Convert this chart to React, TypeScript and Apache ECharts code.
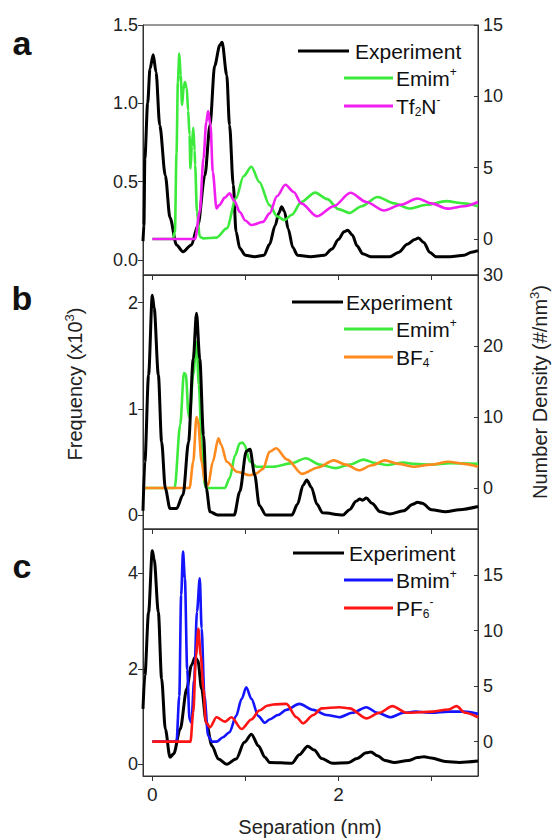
import React, { useEffect, useRef } from 'react';
import * as echarts from 'echarts';

// ---------- data (separation in nm, value) ----------
const expA: [number, number][] = [
  [-0.1, 0.12], [-0.09, 0.22], [-0.08, 0.65], [-0.05, 1.0], [-0.025, 1.22], [0.01, 1.31], [0.04, 1.2],
  [0.08, 0.86], [0.14, 0.54], [0.19, 0.27], [0.26, 0.096], [0.33, 0.053], [0.42, 0.096], [0.49, 0.22],
  [0.565, 0.54], [0.62, 0.86], [0.67, 1.24], [0.725, 1.37], [0.75, 1.39], [0.8, 1.18], [0.83, 0.86],
  [0.87, 0.48], [0.9, 0.18], [0.94, 0.075], [1.0, 0.03], [1.1, 0.02], [1.2, 0.03], [1.26, 0.1],
  [1.32, 0.22], [1.36, 0.3], [1.39, 0.34], [1.42, 0.31], [1.46, 0.2], [1.51, 0.08], [1.56, 0.03],
  [1.7, 0.02], [1.85, 0.03], [1.93, 0.07], [2.0, 0.13], [2.06, 0.18], [2.1, 0.19], [2.15, 0.16],
  [2.2, 0.09], [2.26, 0.04], [2.35, 0.02], [2.55, 0.02], [2.65, 0.05], [2.74, 0.1], [2.82, 0.13],
  [2.86, 0.14], [2.92, 0.11], [2.98, 0.05], [3.05, 0.02], [3.2, 0.02], [3.35, 0.03], [3.43, 0.05], [3.5, 0.06],
];
const emimA: [number, number][] = [
  [0, 0], [0.22, 0], [0.243, 0.5], [0.26, 6], [0.275, 11], [0.29, 13.0], [0.305, 11.5], [0.32, 9.4],
  [0.335, 10.5], [0.35, 11.0], [0.37, 10.6], [0.385, 9], [0.4, 7.3], [0.41, 4.95], [0.425, 6.5],
  [0.44, 7.8], [0.455, 6.2], [0.46, 5.2], [0.48, 1.9], [0.51, 0.16], [0.55, 0.05], [0.69, 0.1],
  [0.8, 0.75], [0.9, 2.85], [0.98, 4.4], [1.065, 5.07], [1.15, 4.0], [1.26, 2.38], [1.34, 1.6],
  [1.42, 1.33], [1.5, 1.7], [1.6, 2.6], [1.75, 3.25], [1.88, 2.8], [2.0, 2.1], [2.12, 1.83],
  [2.25, 2.3], [2.42, 2.95], [2.6, 2.5], [2.76, 2.14], [2.95, 2.4], [3.16, 2.66], [3.35, 2.5], [3.5, 2.3],
];
const tf2nA: [number, number][] = [
  [0, 0], [0.46, 0], [0.51, 1.9], [0.55, 5.65], [0.58, 8.2], [0.6, 8.97], [0.625, 8.0], [0.65, 4.7],
  [0.69, 2.15], [0.72, 2.38], [0.78, 2.9], [0.83, 3.2], [0.88, 2.7], [0.94, 1.9], [1.0, 1.3],
  [1.065, 0.98], [1.19, 1.2], [1.26, 1.8], [1.34, 3.0], [1.43, 3.8], [1.52, 3.3], [1.6, 2.5],
  [1.77, 1.6], [1.95, 2.3], [2.13, 3.24], [2.3, 2.6], [2.49, 2.0], [2.67, 2.4], [2.85, 2.84],
  [3.0, 2.5], [3.17, 2.13], [3.35, 2.3], [3.5, 2.6],
];

const expB: [number, number][] = [
  [-0.1, 0.04], [-0.08, 0.5], [-0.04, 1.32], [0.0, 2.07], [0.02, 1.95], [0.065, 1.32], [0.1, 0.69],
  [0.14, 0.25], [0.19, 0.06], [0.26, 0.06], [0.33, 0.19], [0.39, 0.69], [0.44, 1.47], [0.475, 1.9],
  [0.51, 1.47], [0.55, 0.75], [0.58, 0.25], [0.62, 0.03], [0.7, 0.0], [0.88, 0.0], [0.94, 0.22],
  [1.01, 0.6], [1.05, 0.62], [1.1, 0.38], [1.15, 0.09], [1.22, 0.0], [1.5, 0.0], [1.56, 0.1],
  [1.62, 0.28], [1.66, 0.33], [1.71, 0.26], [1.77, 0.1], [1.83, 0.02], [2.05, 0.0], [2.12, 0.05],
  [2.19, 0.13], [2.23, 0.15], [2.26, 0.14], [2.3, 0.16], [2.36, 0.11], [2.45, 0.03], [2.55, 0.01],
  [2.7, 0.04], [2.8, 0.1], [2.85, 0.12], [2.9, 0.11], [3.0, 0.05], [3.15, 0.03], [3.3, 0.05], [3.5, 0.08],
];
const emimB: [number, number][] = [
  [-0.1, 0], [0.24, 0], [0.3, 8.9], [0.34, 16.2], [0.36, 16.0], [0.39, 10.3], [0.4, 9.9], [0.44, 16.0],
  [0.475, 20.6], [0.5, 14.5], [0.53, 6.5], [0.565, 0.4], [0.58, 0], [0.78, 0], [0.83, 1.36],
  [0.89, 4.6], [0.94, 6.3], [0.97, 6.4], [0.99, 6.1], [1.05, 3.7], [1.12, 3.0], [1.3, 3.0], [1.5, 3.5],
  [1.65, 4.2], [1.8, 3.3], [1.97, 2.8], [2.12, 3.3], [2.27, 4.0], [2.4, 3.5], [2.52, 3.24], [2.7, 3.6],
  [2.81, 3.4], [3.0, 3.3], [3.2, 3.5], [3.5, 3.4],
];
const bf4B: [number, number][] = [
  [-0.1, 0], [0.4, 0], [0.44, 3.7], [0.475, 10.0], [0.49, 9.5], [0.53, 3.7], [0.565, 0.9], [0.6, 0.4],
  [0.65, 3.7], [0.71, 7.0], [0.74, 6.1], [0.8, 3.7], [0.91, 2.3], [1.05, 1.8], [1.11, 2.0], [1.19, 2.7],
  [1.26, 5.1], [1.33, 5.6], [1.45, 4.0], [1.61, 2.0], [1.78, 2.9], [1.95, 3.9], [2.08, 3.3], [2.22, 2.5],
  [2.36, 3.2], [2.5, 3.9], [2.65, 3.4], [2.8, 3.0], [3.0, 3.3], [3.18, 3.7], [3.35, 3.4], [3.5, 3.0],
];

const expC: [number, number][] = [
  [-0.1, 1.16], [-0.08, 1.86], [-0.04, 3.18], [0.0, 4.47], [0.02, 4.3], [0.065, 3.18], [0.1, 1.79],
  [0.14, 0.74], [0.19, 0.15], [0.23, 0.22], [0.3, 0.74], [0.37, 1.58], [0.42, 2.07], [0.46, 2.24],
  [0.49, 2.17], [0.53, 1.58], [0.58, 0.88], [0.64, 0.39], [0.71, 0.11], [0.8, 0.0], [0.9, 0.11],
  [0.99, 0.46], [1.065, 0.63], [1.14, 0.39], [1.21, 0.15], [1.26, 0.04], [1.5, 0.02], [1.58, 0.2],
  [1.67, 0.38], [1.74, 0.3], [1.82, 0.12], [1.94, 0.02], [2.1, 0.03], [2.2, 0.12], [2.3, 0.24],
  [2.35, 0.26], [2.42, 0.18], [2.5, 0.08], [2.6, 0.04], [2.75, 0.08], [2.85, 0.14], [2.92, 0.16],
  [3.0, 0.13], [3.15, 0.06], [3.3, 0.04], [3.5, 0.07],
];
const bmimC: [number, number][] = [
  [0, 0], [0.26, 0], [0.29, 4.1], [0.31, 13.2], [0.33, 17.1], [0.35, 14.7], [0.375, 6.5], [0.4, 2.0],
  [0.42, 1.7], [0.45, 5.6], [0.48, 11.7], [0.51, 14.7], [0.53, 10.2], [0.56, 4.1], [0.6, 0.55],
  [0.64, 0], [0.69, 0], [0.76, 0.4], [0.83, 0.85], [0.9, 2.3], [0.96, 3.85], [1.01, 4.9], [1.065, 3.85],
  [1.14, 2.3], [1.21, 1.7], [1.26, 2.0], [1.35, 2.4], [1.44, 2.86], [1.58, 3.4], [1.73, 2.86],
  [1.87, 2.4], [2.01, 2.2], [2.15, 2.6], [2.3, 3.1], [2.42, 2.6], [2.56, 2.2], [2.7, 2.6], [2.83, 2.7],
  [3.0, 2.6], [3.18, 2.7], [3.35, 2.7], [3.5, 2.5],
];
const pf6C: [number, number][] = [
  [0, 0], [0.41, 0], [0.44, 2.65], [0.47, 7.75], [0.495, 10.15], [0.52, 7.75], [0.55, 4.75],
  [0.575, 1.75], [0.62, 1.3], [0.69, 2.2], [0.78, 1.8], [0.85, 2.2], [0.96, 1.14], [1.065, 2.0],
  [1.15, 2.8], [1.24, 3.25], [1.3, 3.35], [1.44, 3.4], [1.55, 2.2], [1.62, 1.65], [1.73, 2.4],
  [1.82, 3.0], [2.01, 3.1], [2.12, 3.0], [2.3, 2.1], [2.44, 2.6], [2.58, 3.2], [2.73, 2.6], [3.01, 2.7],
  [3.18, 2.9], [3.27, 3.2], [3.36, 2.6], [3.5, 2.2],
];

// ---------- axis ticks ----------
const xTicks = [0, 1, 2, 3];
const xLabels = [0, 2];
const leftTicksA = [0, 0.5, 1.0, 1.5];
const rightTicksA = [0, 5, 10, 15];
const leftTicksB = [0, 1, 2];
const rightTicksB = [0, 10, 20, 30];
const leftTicksC = [0, 2, 4];
const rightTicksC = [0, 5, 10, 15];

const FONT = '"Liberation Sans", Arial, Helvetica, sans-serif';
const AX = '#333333';
const BLACK = '#000000';
const GREEN = '#3bea3b';
const MAGENTA = '#f01ef0';
const ORANGE = '#ff8a1e';
const BLUE = '#1414ff';
const RED = '#ff1414';

type Panel = {
  top: number;
  height: number;
  lrange: [number, number];
  rrange: [number, number];
  lticks: number[];
  rticks: number[];
  lfmt: (v: number) => string;
  series: { data: [number, number][]; color: string; right: boolean; width: number }[];
};

const panels: Panel[] = [
  {
    top: 25, height: 250, lrange: [-0.096, 1.5], rrange: [-2.52, 15],
    lticks: leftTicksA, rticks: rightTicksA, lfmt: (v) => v.toFixed(1),
    series: [
      { data: expA, color: BLACK, right: false, width: 3 },
      { data: emimA, color: GREEN, right: true, width: 2.6 },
      { data: tf2nA, color: MAGENTA, right: true, width: 2.6 },
    ],
  },
  {
    top: 275, height: 254, lrange: [-0.132, 2.261], rrange: [-5.77, 30],
    lticks: leftTicksB, rticks: rightTicksB, lfmt: (v) => String(v),
    series: [
      { data: emimB, color: GREEN, right: true, width: 2.6 },
      { data: bf4B, color: ORANGE, right: true, width: 2.6 },
      { data: expB, color: BLACK, right: false, width: 3 },
    ],
  },
  {
    top: 529, height: 247, lrange: [-0.245, 4.928], rrange: [-3.09, 19.14],
    lticks: leftTicksC, rticks: rightTicksC, lfmt: (v) => String(v),
    series: [
      { data: expC, color: BLACK, right: false, width: 3 },
      { data: bmimC, color: BLUE, right: true, width: 2.6 },
      { data: pf6C, color: RED, right: true, width: 2.6 },
    ],
  },
];

const legendRich = {
  sup: { fontSize: 12, fontFamily: FONT, fill: '#111', verticalAlign: 'top', lineHeight: 10 },
  sub: { fontSize: 12, fontFamily: FONT, fill: '#111', verticalAlign: 'bottom', lineHeight: 8 },
};

function legend(y0: number, lx0: number, tx0: number, names: string[], colors: string[]) {
  const rows = [
    { y: y0, x1: lx0, x2: lx0 + 51, tx: tx0 },
    { y: y0 + 27, x1: 344, x2: 393, tx: 396 },
    { y: y0 + 55, x1: 344, x2: 393, tx: 396 },
  ];
  const els: any[] = [];
  rows.forEach((r, i) => {
    els.push({
      type: 'line',
      shape: { x1: r.x1, y1: r.y, x2: r.x2, y2: r.y },
      style: { stroke: colors[i], lineWidth: 3 },
    });
    els.push({
      type: 'text',
      x: r.tx,
      y: r.y,
      style: {
        text: names[i],
        fontSize: 21,
        fontFamily: FONT,
        fill: '#111',
        verticalAlign: 'middle',
        align: 'left',
        lineHeight: 24,
        rich: legendRich,
      },
    });
  });
  return els;
}

export default function App() {
  const ref = useRef<HTMLDivElement>(null);
  useEffect(() => {
    if (!ref.current) return;
    const chart = echarts.init(ref.current, null, { renderer: 'svg' });

    const grid = panels.map((p) => ({
      left: 143, width: 335, top: p.top, height: p.height,
      show: true, borderColor: AX, borderWidth: 1, backgroundColor: 'transparent',
    }));

    const xAxis = panels.map((p, i) => ({
      type: 'value', gridIndex: i, min: -0.1, max: 3.5,
      axisLine: { show: true, onZero: false, lineStyle: { color: AX, width: 1 } },
      axisTick: { show: true, inside: false, length: 5, customValues: xTicks, lineStyle: { color: AX } },
      axisLabel: {
        show: i === 2, customValues: xLabels, margin: 9, fontSize: 19, fontFamily: FONT, color: '#222',
        formatter: (v: number) => String(v),
      },
      splitLine: { show: false },
    }));

    const yAxis: any[] = [];
    panels.forEach((p, i) => {
      yAxis.push({
        type: 'value', gridIndex: i, position: 'left', min: p.lrange[0], max: p.lrange[1],
        axisLine: { show: true, onZero: false, lineStyle: { color: AX, width: 1 } },
        axisTick: { show: true, inside: false, length: 5, customValues: p.lticks, lineStyle: { color: AX } },
        axisLabel: {
          customValues: p.lticks, margin: 5, fontSize: 18, fontFamily: FONT, color: '#222',
          formatter: (v: number) => p.lfmt(v),
        },
        splitLine: { show: false },
      });
      yAxis.push({
        type: 'value', gridIndex: i, position: 'right', min: p.rrange[0], max: p.rrange[1],
        axisLine: { show: true, onZero: false, lineStyle: { color: AX, width: 1 } },
        axisTick: { show: true, inside: true, length: 4, customValues: p.rticks, lineStyle: { color: AX } },
        axisLabel: {
          customValues: p.rticks, margin: 5, fontSize: 18, fontFamily: FONT, color: '#222',
          formatter: (v: number) => String(v),
        },
        splitLine: { show: false },
      });
    });

    const series: any[] = [];
    panels.forEach((p, i) => {
      p.series.forEach((s) => {
        series.push({
          type: 'line', xAxisIndex: i, yAxisIndex: 2 * i + (s.right ? 1 : 0),
          data: s.data, showSymbol: false, symbol: 'none', smooth: 0.3, smoothMonotone: 'x',
          lineStyle: { color: s.color, width: s.width }, silent: true,
        });
      });
    });

    const labelStyle = { fontSize: 34, fontWeight: 'bold', fontFamily: FONT, fill: '#111', align: 'center', verticalAlign: 'middle' };
    const titleRich = {
      sup: { fontSize: 13, fontFamily: FONT, fill: '#222', verticalAlign: 'top', lineHeight: 10 },
    };

    const graphic: any[] = [
      { type: 'text', x: 22, y: 43, style: { ...labelStyle, text: 'a' } },
      { type: 'text', x: 22, y: 298, style: { ...labelStyle, text: 'b' } },
      { type: 'text', x: 22, y: 566, style: { ...labelStyle, text: 'c' } },
      {
        type: 'text', x: 75, y: 384, rotation: Math.PI / 2,
        style: {
          text: 'Frequency (x10{sup|3})', fontSize: 20, fontFamily: FONT, fill: '#222',
          align: 'center', verticalAlign: 'middle', lineHeight: 24, rich: titleRich,
        },
      },
      {
        type: 'text', x: 540, y: 392, rotation: Math.PI / 2,
        style: {
          text: 'Number Density (#/nm{sup|3})', fontSize: 20, fontFamily: FONT, fill: '#222',
          align: 'center', verticalAlign: 'middle', lineHeight: 24, rich: titleRich,
        },
      },
      {
        type: 'text', x: 310, y: 827,
        style: { text: 'Separation (nm)', fontSize: 20, fontFamily: FONT, fill: '#222', align: 'center', verticalAlign: 'middle' },
      },
      ...legend(51, 298, 355, ['Experiment', 'Emim{sup|+}', 'Tf{sub|2}N{sup|-}'], [BLACK, GREEN, MAGENTA]),
      ...legend(302, 292, 346, ['Experiment', 'Emim{sup|+}', 'BF{sub|4}{sup|-}'], [BLACK, GREEN, ORANGE]),
      ...legend(553, 293, 349, ['Experiment', 'Bmim{sup|+}', 'PF{sub|6}{sup|-}'], [BLACK, BLUE, RED]),
    ];

    chart.setOption({
      animation: false,
      backgroundColor: '#ffffff',
      grid,
      xAxis,
      yAxis,
      series,
      graphic,
    });
    return () => chart.dispose();
  }, []);
  return <div ref={ref} style={{ position: 'absolute', left: 0, top: 0, width: 554, height: 840 }} />;
}
